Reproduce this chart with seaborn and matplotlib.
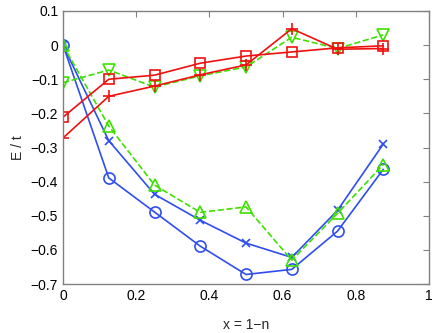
import numpy as np
import pandas as pd
import seaborn as sns
import matplotlib
matplotlib.use('Agg')
import matplotlib.pyplot as plt

# x = 1-n values
x_vals = [0, 0.125, 0.25, 0.375, 0.5, 0.625, 0.75, 0.875]

# energies
blue_circle = [0, -0.389, -0.489, -0.589, -0.672, -0.657, -0.545, -0.364]
blue_cross = [0, -0.28, -0.437, -0.513, -0.58, -0.622, -0.484, -0.29]
green_up = [0, -0.237, -0.41, -0.49, -0.474, -0.63, -0.493, -0.35]
green_down = [-0.11, -0.073, -0.123, -0.09, -0.064, 0.023, -0.01, 0.03]
red_square = [-0.211, -0.1, -0.088, -0.053, -0.032, -0.02, -0.008, -0.002]
red_plus = [-0.272, -0.15, -0.12, -0.087, -0.058, 0.048, -0.012, -0.01]

blue = '#2f4ef0'
red = '#f01010'
green = '#3ee000'

sns.set_style('white')
plt.rcParams['font.family'] = ['Liberation Sans', 'DejaVu Sans']

fig = plt.figure(figsize=(4.36, 3.33), dpi=100)
ax = fig.add_axes([0.1445, 0.147, 0.8395, 0.82])

# series: values, color, marker, dashed
series = [
    (blue_circle, blue, 'o', False),
    (blue_cross, blue, 'x', False),
    (green_up, green, '^', True),
    (green_down, green, 'v', True),
    (red_square, red, 's', False),
    (red_plus, red, '+', False),
]
msize = {'o': 8, 'x': 6, '^': 8.5, 'v': 8.5, 's': 7, '+': 9}

for vals, col, mk, dashed in series:
    df = pd.DataFrame({'x': x_vals, 'E': vals})
    sns.lineplot(data=df, x='x', y='E', ax=ax, color=col, lw=1.2,
                 linestyle='--' if dashed else '-',
                 marker=mk, markersize=msize[mk],
                 markerfacecolor='none', markeredgecolor=col,
                 markeredgewidth=1.2)

ax.set_xlim(0, 1)
ax.set_ylim(-0.7, 0.1)
ax.set_xticks([0, 0.2, 0.4, 0.6, 0.8, 1])
ax.set_xticklabels(['0', '0.2', '0.4', '0.6', '0.8', '1'])
ax.set_yticks(np.round(np.arange(-0.7, 0.11, 0.1), 1))
ax.set_yticklabels(['\u22120.7', '\u22120.6', '\u22120.5', '\u22120.4', '\u22120.3',
                    '\u22120.2', '\u22120.1', '0', '0.1'])
ax.tick_params(direction='in', length=4, width=0.8, color='#808080',
               top=True, right=True, labelsize=10, labelcolor='black')
for s in ax.spines.values():
    s.set_color('#808080')
    s.set_linewidth(1.0)

ax.set_xlabel('x = 1\u2212n', fontsize=10, labelpad=11)
ax.set_ylabel('E / t', fontsize=10, labelpad=4)

fig.savefig('out.png', dpi=100)
